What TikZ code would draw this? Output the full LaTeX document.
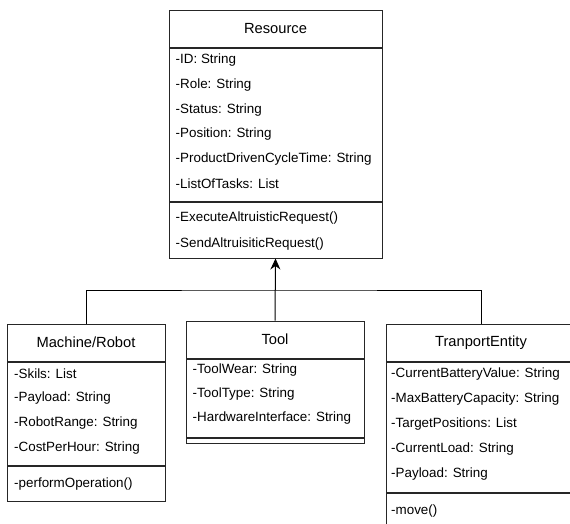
\documentclass[tikz,border=0pt]{standalone}
\usepackage{fontspec}
\setmainfont{Liberation Sans}
\usetikzlibrary{positioning,arrows.meta}
\tikzset{
  classhead/.style={draw=black!85,line width=1pt,minimum height=37,inner sep=0pt,font=\fontsize{14.7}{17}\selectfont},
  part/.style={draw=black!85,line width=1pt,inner sep=0pt},
  member/.style={anchor=west,inner sep=0pt,font=\fontsize{13.4}{16}\selectfont},
  link/.style={draw=black,line width=1pt},
}
\begin{document}
\begin{tikzpicture}[x=1pt,y=-1pt,>={Stealth[length=11pt,width=10pt]}]
    \useasboundingbox (0,0) rectangle (570,523);
    \clip (0,0) rectangle (570,523);
    % Resource
    \node[classhead,minimum width=213] (res) at (275.5,28.5) {Resource};
    \node[part,minimum width=213,minimum height=153,below=0pt of res] (resattr) {};
    \node[part,minimum width=213,minimum height=56,below=0pt of resattr] (resop) {};
    \foreach \t [count=\i] in {-ID: String,-Role: String,-Status: String,-Position: String,-ProductDrivenCycleTime: String,-ListOfTasks: List}
        \node[member] (resa\i) at (175.5,{60.5+24.6*(\i-1)}) {\t};
    \foreach \t [count=\i] in {-ExecuteAltruisticRequest(),-SendAltruisiticRequest()}
        \node[member] (reso\i) at (175.5,{218.5+26*(\i-1)}) {\t};
    % Machine/Robot
    \node[classhead,minimum width=158] (mach) at (86,342.5) {Machine/Robot};
    \node[part,minimum width=158,minimum height=103,below=0pt of mach] (machattr) {};
    \node[part,minimum width=158,minimum height=35,below=0pt of machattr] (machop) {};
    \foreach \t [count=\i] in {-Skils: List,-Payload: String,-RobotRange: String,-CostPerHour: String}
        \node[member] (macha\i) at (14,{373.5+24.7*(\i-1)}) {\t};
    \node[member] (macho1) at (14,484.5) {-performOperation()};
    % Tool
    \node[classhead,minimum width=178] (tool) at (275,339.5) {Tool};
    \node[part,minimum width=178,minimum height=78,below=0pt of tool] (toolattr) {};
    \node[part,minimum width=178,minimum height=5,below=0pt of toolattr] (toolop) {};
    \foreach \t [count=\i] in {-ToolWear: String,-ToolType: String,-HardwareInterface: String}
        \node[member] (toola\i) at (192.5,{370.5+24*(\i-1)}) {\t};
    % TranportEntity
    \node[classhead,minimum width=190] (trans) at (481,342.5) {TranportEntity};
    \node[part,minimum width=190,minimum height=130,below=0pt of trans] (transattr) {};
    \node[part,minimum width=190,minimum height=36,below=0pt of transattr] (transop) {};
    \foreach \t [count=\i] in {-CurrentBatteryValue: String,-MaxBatteryCapacity: String,-TargetPositions: List,-CurrentLoad: String,-Payload: String}
        \node[member] (transa\i) at (391,{374.5+24.8*(\i-1)}) {\t};
    \node[member] (transo1) at (391,511.5) {-move()};
    % generalisation
    \coordinate (bus) at (275,290);
    \draw[link] (mach.north) |- (bus) -| (trans.north);
    \draw[link,->] (tool.north) -- (resop.south);
\end{tikzpicture}
\end{document}
